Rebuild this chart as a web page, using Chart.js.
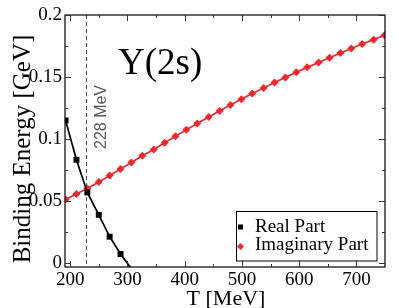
<!DOCTYPE html>
<html><head><meta charset="utf-8">
<script src="https://cdn.jsdelivr.net/npm/chart.js@4.4.0/dist/chart.umd.min.js"></script>
<style>html,body{margin:0;padding:0;background:#fff;overflow:hidden}</style>
</head><body>
<canvas id="c" width="399" height="308" style="width:399px;height:308px;display:block"></canvas>
<script>
// Data
const realT = [192, 211, 230, 250, 269, 288, 307];
const realE = [0.1148, 0.0830, 0.0566, 0.0385, 0.0209, 0.0069, -0.0050];
const realShowMarker = [true, true, true, true, true, true, false];
const imagT = [192, 211, 230, 250, 269, 288, 307, 326, 346, 365, 384, 403, 422, 442, 461,
               480, 499, 518, 538, 557, 576, 595, 614, 634, 653, 672, 691, 710, 730, 749];
const imagE = [0.0510, 0.0553, 0.0598, 0.0651, 0.0703, 0.0755, 0.0808, 0.0862, 0.0914, 0.0968,
               0.1020, 0.1072, 0.1124, 0.1175, 0.1225, 0.1273, 0.1320, 0.1366, 0.1411, 0.1454,
               0.1496, 0.1537, 0.1577, 0.1616, 0.1655, 0.1692, 0.1729, 0.1765, 0.1801, 0.1837];
const xTicks = [200, 300, 400, 500, 600, 700];
const xMinorTicks = [250, 350, 450, 550, 650, 750];
const yTicks = [0, 0.05, 0.1, 0.15, 0.2];
const yTickLabels = ['0', '0.05', '0.1', '0.15', '0.2'];
const yMinorTicks = [0.025, 0.075, 0.125, 0.175];
const seriesNames = ['Real Part', 'Imaginary Part'];
const markT = 228;
const markLabel = '228 MeV';
const chartTitle = 'Y(2s)';
const xTitle = 'T [MeV]';
const yTitle = 'Binding Energy [GeV]';

const SERIF = '"Liberation Serif", "Times New Roman", serif';
const SANS = '"Liberation Sans", Arial, sans-serif';
const RED = '#f0282d';

const decor = {
  id: 'decor',
  beforeDatasetsDraw(chart) {
    const {ctx, chartArea: a, scales: {x}} = chart;
    const px = x.getPixelForValue(markT);
    ctx.save();
    ctx.strokeStyle = '#444';
    ctx.lineWidth = 1;
    ctx.setLineDash([4, 3]);
    ctx.beginPath();
    ctx.moveTo(Math.round(px) + 0.5, a.top);
    ctx.lineTo(Math.round(px) + 0.5, a.bottom);
    ctx.stroke();
    ctx.setLineDash([]);
    // rotated label
    ctx.translate(px + 19.5, 149);
    ctx.rotate(-Math.PI / 2);
    ctx.fillStyle = '#555';
    ctx.font = '16px ' + SANS;
    ctx.textAlign = 'left';
    ctx.textBaseline = 'alphabetic';
    ctx.fillText(markLabel, 0, 0);
    ctx.restore();
  },
  afterDraw(chart) {
    const {ctx, chartArea: a, scales: {x, y}} = chart;
    ctx.save();
    // frame
    ctx.strokeStyle = '#000';
    ctx.lineWidth = 1.2;
    ctx.strokeRect(a.left, a.top, a.right - a.left, a.bottom - a.top);
    // ticks, inward on all four sides
    ctx.strokeStyle = '#333';
    ctx.lineWidth = 1;
    const tx = (v, len) => {
      const p = Math.round(x.getPixelForValue(v)) + 0.5;
      ctx.beginPath();
      ctx.moveTo(p, a.bottom); ctx.lineTo(p, a.bottom - len);
      ctx.moveTo(p, a.top); ctx.lineTo(p, a.top + len);
      ctx.stroke();
    };
    const ty = (v, len) => {
      const p = Math.round(y.getPixelForValue(v)) + 0.5;
      ctx.beginPath();
      ctx.moveTo(a.left, p); ctx.lineTo(a.left + len, p);
      ctx.moveTo(a.right, p); ctx.lineTo(a.right - len, p);
      ctx.stroke();
    };
    xTicks.forEach(v => tx(v, 6));
    xMinorTicks.forEach(v => { if (v < x.max) tx(v, 3); });
    yTicks.forEach(v => ty(v, 6));
    yMinorTicks.forEach(v => ty(v, 3));

    // chart title
    ctx.fillStyle = '#000';
    ctx.font = '37px ' + SERIF;
    ctx.textAlign = 'left';
    ctx.textBaseline = 'alphabetic';
    ctx.fillText(chartTitle, 118, 74);

    // axis titles
    ctx.font = '22px ' + SERIF;
    ctx.textAlign = 'center';
    ctx.fillText(xTitle, (a.left + a.right) / 2 + 1, 305);
    ctx.save();
    ctx.translate(30, 149);
    ctx.rotate(-Math.PI / 2);
    ctx.font = '25px ' + SERIF;
    ctx.fillText(yTitle, 0, 0);
    ctx.restore();

    // legend
    const L = {x: 236.5, y: 211.5, w: 140.5, h: 49.5};
    ctx.fillStyle = '#fff';
    ctx.fillRect(L.x, L.y, L.w, L.h);
    ctx.strokeStyle = '#000';
    ctx.lineWidth = 1;
    ctx.strokeRect(L.x, L.y, L.w, L.h);
    const ds = chart.data.datasets;
    ctx.font = '19px ' + SERIF;
    ctx.textAlign = 'left';
    ctx.textBaseline = 'middle';
    // item 1: square
    ctx.fillStyle = ds[0].backgroundColor;
    ctx.fillRect(238, 224.5, 5, 5);
    ctx.fillStyle = '#000';
    ctx.fillText(ds[0].label, 255, 227);
    // item 2: diamond
    ctx.fillStyle = ds[1].backgroundColor;
    ctx.beginPath();
    ctx.moveTo(240.5, 243); ctx.lineTo(244, 246.5); ctx.lineTo(240.5, 250); ctx.lineTo(237, 246.5);
    ctx.closePath(); ctx.fill();
    ctx.fillStyle = '#000';
    ctx.fillText(ds[1].label, 255, 245.5);
    ctx.restore();
  }
};

new Chart(document.getElementById('c'), {
  type: 'line',
  data: {
    datasets: [
      {
        label: seriesNames[0],
        data: realT.map((t, i) => ({x: t, y: realE[i]})),
        borderColor: '#000',
        backgroundColor: '#000',
        borderWidth: 1.7,
        pointStyle: 'rect',
        pointRadius: realShowMarker.map(s => s ? 4.2 : 0),
        pointBorderWidth: 0,
        tension: 0,
        clip: 0
      },
      {
        label: seriesNames[1],
        data: imagT.map((t, i) => ({x: t, y: imagE[i]})),
        borderColor: RED,
        backgroundColor: RED,
        borderWidth: 1.7,
        pointStyle: 'rectRot',
        pointRadius: 4,
        pointBorderWidth: 0,
        tension: 0,
        clip: 0
      }
    ]
  },
  options: {
    responsive: false,
    animation: false,
    devicePixelRatio: 1,
    layout: {padding: {top: 15, right: 14, left: 0, bottom: 0}},
    plugins: {legend: {display: false}, tooltip: {enabled: false}},
    scales: {
      x: {
        type: 'linear', min: 191, max: 750,
        afterFit(s) { s.height = 41; },
        afterBuildTicks(s) { s.ticks = xTicks.map(v => ({value: v})); },
        grid: {display: false, drawTicks: false},
        border: {display: false},
        ticks: {
          font: {family: SERIF, size: 19}, color: '#000', padding: 2,
          maxRotation: 0, autoSkip: false, callback: v => String(v)
        }
      },
      y: {
        type: 'linear', min: -0.0036, max: 0.2,
        afterFit(s) { s.width = 65; },
        afterBuildTicks(s) { s.ticks = yTicks.map(v => ({value: v})); },
        grid: {display: false, drawTicks: false},
        border: {display: false},
        ticks: {
          font: {family: SERIF, size: 19}, color: '#000', padding: 3,
          autoSkip: false, callback: (v, i) => yTickLabels[i]
        }
      }
    }
  },
  plugins: [decor]
});
</script>
</body></html>
